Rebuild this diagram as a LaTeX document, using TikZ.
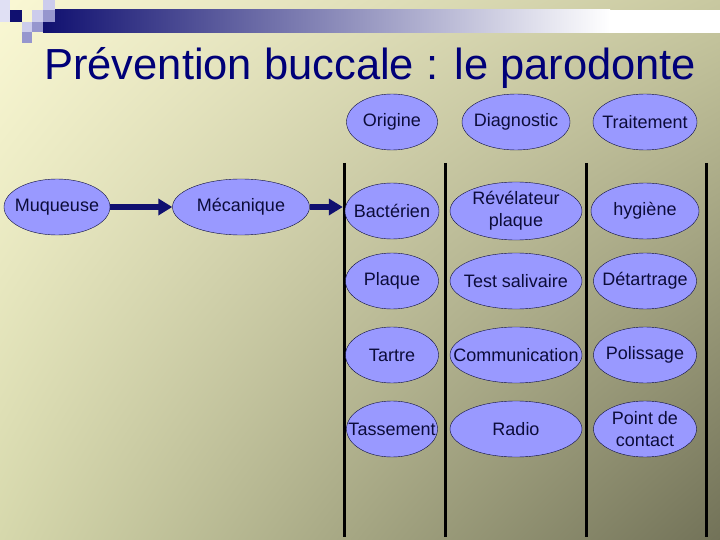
\documentclass[tikz,border=0pt]{standalone}
\usepackage{fontspec}
\setmainfont{Liberation Sans}
\usetikzlibrary{shapes.geometric,arrows.meta,shadings}

\definecolor{fondA}{RGB}{250,248,212}
\definecolor{fondB}{RGB}{200,200,160}
\definecolor{fondC}{RGB}{214,216,172}
\definecolor{fondD}{RGB}{114,114,88}
\definecolor{marine}{RGB}{16,16,112}
\definecolor{titre}{RGB}{0,0,120}
\definecolor{lavande}{RGB}{153,153,255}
\definecolor{encre}{RGB}{12,12,58}
\definecolor{pale}{RGB}{204,204,236}
\definecolor{moyen}{RGB}{150,150,206}

\tikzset{
  bulle/.style={ellipse, draw=encre, fill=lavande, text=encre, inner xsep=-22pt,
    inner ysep=-6pt, minimum height=56pt, align=center, font=\fontsize{18}{21.6}\selectfont},
  fleche/.style={-{Triangle[length=14pt,width=16pt]}, marine, line width=6pt},
  sep/.style={black, line width=3pt}
}

\begin{document}
\begin{tikzpicture}[x=1pt, y=-1pt]
    \def\colA{392} \def\colB{516} \def\colC{645}
    \def\rowA{122} \def\rowB{211} \def\rowC{281} \def\rowD{355} \def\rowE{429}

    % fond
    \shade[upper left=fondA, upper right=fondB, lower left=fondC, lower right=fondD]
        (0,0) rectangle (720,540);
    \useasboundingbox (0,0) rectangle (720,540);

    % bandeau
    \shade[left color=marine, right color=white] (43,10) rectangle (610,33);
    \fill[white] (610,10) rectangle (720,33);
    \fill[pale!60] (0,0) rectangle (10,22);
    \fill[marine] (10,10) rectangle (22,22);
    \fill[pale] (43,0) rectangle (55,10);
    \fill[pale] (32,10) rectangle (43,22);
    \fill[moyen] (43,10) rectangle (55,22);
    \fill[pale] (22,22) rectangle (32,32);
    \fill[moyen] (32,22) rectangle (43,32);
    \fill[moyen] (22,32) rectangle (32,43);

    \node[anchor=base west, text=titre, font=\fontsize{43.5}{50}\selectfont, inner sep=0pt]
        (titre) at (44,80) {Prévention buccale : le parodonte};

    % separateurs
    \foreach \x in {344,445,586,706}
        \draw[sep] (\x,163) -- (\x,537);

    % en-tetes
    \node[bulle, minimum width=91pt] (orig) at (\colA,\rowA) {Origine};
    \node[bulle, minimum width=108pt] (diag) at (\colB,\rowA) {Diagnostic};
    \node[bulle, minimum width=104pt] (trait) at (\colC,\rowA) {Traitement};

    \node[bulle, minimum width=106pt] (muq) at (57,207) {Muqueuse};
    \node[bulle, minimum width=137pt] (meca) at (241,207) {Mécanique};

    \node[bulle, minimum width=94pt] (bact) at (\colA,\rowB) {Bactérien};
    \node[bulle, minimum width=132pt, minimum height=58pt] (revel) at (\colB,\rowB) {Révélateur\\plaque};
    \node[bulle, minimum width=108pt] (hyg) at (\colC,\rowB) {hygiène};

    \node[bulle, minimum width=93pt] (plaq) at (\colA,\rowC) {Plaque};
    \node[bulle, minimum width=132pt] (test) at (\colB,\rowC) {Test salivaire};
    \node[bulle, minimum width=103pt] (detart) at (\colC,\rowC) {Détartrage};

    \node[bulle, minimum width=93pt] (tart) at (\colA,\rowD) {Tartre};
    \node[bulle, minimum width=132pt] (comm) at (\colB,\rowD) {Communication};
    \node[bulle, minimum width=103pt] (poli) at (\colC,\rowD) {Polissage};

    \node[bulle, minimum width=91pt] (tass) at (\colA,\rowE) {Tassement};
    \node[bulle, minimum width=132pt] (radio) at (\colB,\rowE) {Radio};
    \node[bulle, minimum width=103pt] (contact) at (\colC,\rowE) {Point de\\contact};

    \draw[fleche] (muq) -- (meca);
    \draw[fleche, shorten >=2pt] (meca) -- (meca -| bact.west);
\end{tikzpicture}
\end{document}
